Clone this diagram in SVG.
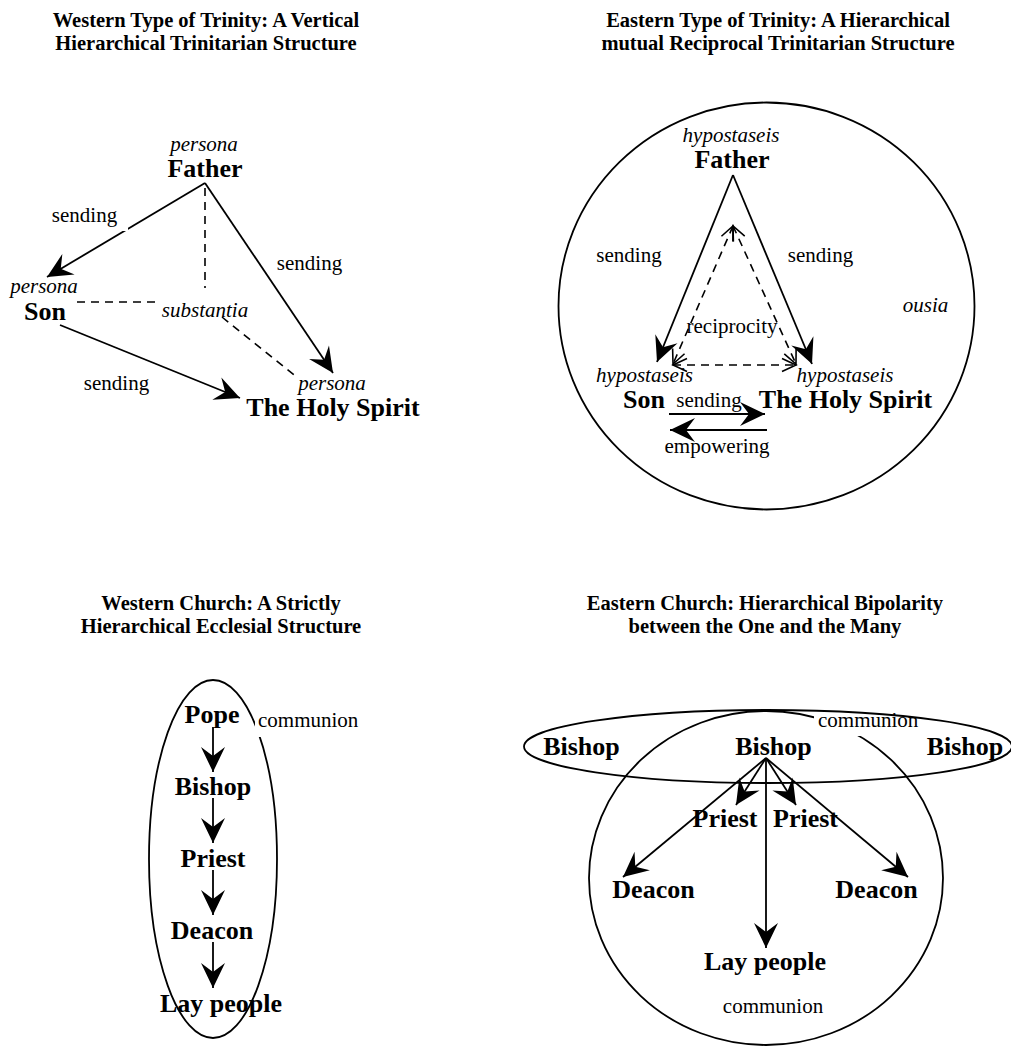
<svg xmlns="http://www.w3.org/2000/svg" width="1011" height="1046" viewBox="0 0 1011 1046">
<style>
text{font-family:"Liberation Serif","Times New Roman","Nimbus Roman","Nimbus Roman No9 L","FreeSerif","DejaVu Serif",serif;fill:#000}
.title{font-size:20.5px;font-weight:bold;text-anchor:middle}
.big{font-size:26px;font-weight:bold;text-anchor:middle}
.lab{font-size:21px;font-weight:normal;text-anchor:middle}
.it{font-size:21px;font-style:italic;font-weight:normal;text-anchor:middle}
.ln{stroke:#000;stroke-width:1.8;fill:none}
.dash{stroke:#000;stroke-width:1.6;fill:none;stroke-dasharray:8 6}
.shape{stroke:#000;stroke-width:1.8;fill:none}
.arr{marker-end:url(#head)}
.both{marker-start:url(#open);marker-end:url(#open)}
</style>
<defs>
<marker id="head" markerUnits="userSpaceOnUse" viewBox="-27 -14 30 28" refX="0" refY="0" markerWidth="30" markerHeight="28" orient="auto" overflow="visible">
<path d="M0,0 L-25,-12 L-16,0 L-25,12 Z" fill="#000"/>
</marker>
<marker id="open" markerUnits="userSpaceOnUse" viewBox="-15 -8 17 16" refX="0" refY="0" markerWidth="17" markerHeight="16" orient="auto-start-reverse" overflow="visible">
<path d="M-14,-6.5 L0,0 L-14,6.5" fill="none" stroke="#000" stroke-width="1.6" stroke-dasharray="none"/>
</marker>
</defs>
<rect width="1011" height="1046" fill="#fff"/>

<!-- titles -->
<g id="title-western-trinity">
<text class="title" x="206" y="27">Western Type of Trinity: A Vertical</text>
<text class="title" x="206" y="50">Hierarchical Trinitarian Structure</text>
</g>
<g id="title-eastern-trinity">
<text class="title" x="778" y="27">Eastern Type of Trinity: A Hierarchical</text>
<text class="title" x="778" y="50">mutual Reciprocal Trinitarian Structure</text>
</g>
<g id="title-western-church">
<text class="title" x="221" y="610">Western Church: A Strictly</text>
<text class="title" x="221" y="633">Hierarchical Ecclesial Structure</text>
</g>
<g id="title-eastern-church">
<text class="title" x="765" y="610">Eastern Church: Hierarchical Bipolarity</text>
<text class="title" x="765" y="633">between the One and the Many</text>
</g>

<!-- ===== Western Trinity ===== -->
<g id="wt-connectors">
<line class="ln arr" x1="205" y1="183" x2="47" y2="277"/>
<line class="ln arr" x1="205" y1="183" x2="333" y2="373"/>
<line class="ln arr" x1="60" y1="325" x2="240" y2="398"/>
<line class="dash" x1="205" y1="188" x2="205" y2="288"/>
<line class="dash" x1="77" y1="302" x2="155" y2="302"/>
<line class="dash" x1="222" y1="317" x2="298" y2="378"/>
</g>
<g id="wt-father">
<text class="it" x="204" y="151">persona</text>
<text class="big" x="205" y="177">Father</text>
</g>
<g id="wt-son">
<text class="it" x="44" y="293">persona</text>
<text class="big" x="45" y="320">Son</text>
</g>
<g id="wt-spirit">
<text class="it" x="332" y="390">persona</text>
<text class="big" x="333" y="416">The Holy Spirit</text>
</g>
<g id="wt-substantia">
<text class="it" x="205" y="317">substantia</text>
</g>
<g id="wt-labels">
<rect x="50" y="205" width="78" height="26" fill="#fff"/>
<text class="lab" x="84.5" y="222">sending</text>
<text class="lab" x="309.5" y="270">sending</text>
<text class="lab" x="116.5" y="390">sending</text>
</g>

<!-- ===== Eastern Trinity ===== -->
<g id="et-ousia">
<ellipse class="shape" cx="766.5" cy="306" rx="208" ry="203.5"/>
<text class="it" x="925.5" y="312">ousia</text>
</g>
<g id="et-connectors">
<line class="ln arr" x1="733" y1="175" x2="657" y2="362"/>
<line class="ln arr" x1="733" y1="175" x2="812" y2="364"/>
<line class="dash both" x1="733" y1="226" x2="673" y2="364"/>
<line class="dash both" x1="733" y1="226" x2="796" y2="364"/>
<line class="dash both" x1="673" y1="365" x2="796" y2="365"/>
<line class="ln arr" x1="669" y1="414" x2="765" y2="414"/>
<line class="ln arr" x1="767" y1="430" x2="670" y2="430"/>
</g>
<g id="et-father">
<text class="it" x="731" y="142">hypostaseis</text>
<text class="big" x="732" y="168">Father</text>
</g>
<g id="et-son">
<text class="it" x="644.5" y="382">hypostaseis</text>
<text class="big" x="644" y="408">Son</text>
</g>
<g id="et-spirit">
<text class="it" x="845" y="382">hypostaseis</text>
<text class="big" x="845.5" y="408">The Holy Spirit</text>
</g>
<g id="et-labels">
<text class="lab" x="629" y="262">sending</text>
<text class="lab" x="820.5" y="262">sending</text>
<text class="lab" x="732" y="333">reciprocity</text>
<text class="lab" x="709" y="407">sending</text>
<text class="lab" x="717" y="453">empowering</text>
</g>

<!-- ===== Western Church ===== -->
<g id="wc-communion">
<ellipse class="shape" cx="213" cy="859" rx="64" ry="179"/>
<rect x="255" y="711" width="108" height="26" fill="#fff"/>
<text class="lab" x="258" y="727" style="text-anchor:start">communion</text>
</g>
<g id="wc-connectors">
<line class="ln arr" x1="213" y1="727" x2="213" y2="772"/>
<line class="ln arr" x1="213" y1="798" x2="213" y2="843"/>
<line class="ln arr" x1="213" y1="870" x2="213" y2="915"/>
<line class="ln arr" x1="213" y1="942" x2="213" y2="988"/>
</g>
<g id="wc-pope"><text class="big" x="212" y="723">Pope</text></g>
<g id="wc-bishop"><text class="big" x="213" y="795">Bishop</text></g>
<g id="wc-priest"><text class="big" x="213" y="867">Priest</text></g>
<g id="wc-deacon"><text class="big" x="212" y="939">Deacon</text></g>
<g id="wc-lay"><text class="big" x="221" y="1012">Lay people</text></g>

<!-- ===== Eastern Church ===== -->
<g id="ec-communion-local">
<ellipse class="shape" cx="766" cy="878" rx="177" ry="167"/>
<rect x="814" y="712" width="108" height="24" fill="#fff"/>
<text class="lab" x="818" y="727" style="text-anchor:start">communion</text>
<text class="lab" x="773" y="1013">communion</text>
</g>
<g id="ec-communion-bishops">
<ellipse class="shape" cx="768" cy="746.5" rx="244" ry="36.5"/>
</g>
<g id="ec-connectors">
<line class="ln arr" x1="766" y1="758" x2="736" y2="805"/>
<line class="ln arr" x1="766" y1="758" x2="796" y2="805"/>
<line class="ln arr" x1="766" y1="758" x2="623" y2="877"/>
<line class="ln arr" x1="766" y1="758" x2="908" y2="877"/>
<line class="ln arr" x1="766" y1="758" x2="766" y2="948"/>
</g>
<g id="ec-bishop-left"><text class="big" x="581.5" y="755">Bishop</text></g>
<g id="ec-bishop-center"><text class="big" x="773.5" y="755">Bishop</text></g>
<g id="ec-bishop-right"><text class="big" x="965" y="755">Bishop</text></g>
<g id="ec-priest-left"><text class="big" x="725" y="827">Priest</text></g>
<g id="ec-priest-right"><text class="big" x="805.5" y="827">Priest</text></g>
<g id="ec-deacon-left"><text class="big" x="653.5" y="898">Deacon</text></g>
<g id="ec-deacon-right"><text class="big" x="876.5" y="898">Deacon</text></g>
<g id="ec-lay"><text class="big" x="765" y="970">Lay people</text></g>
</svg>
